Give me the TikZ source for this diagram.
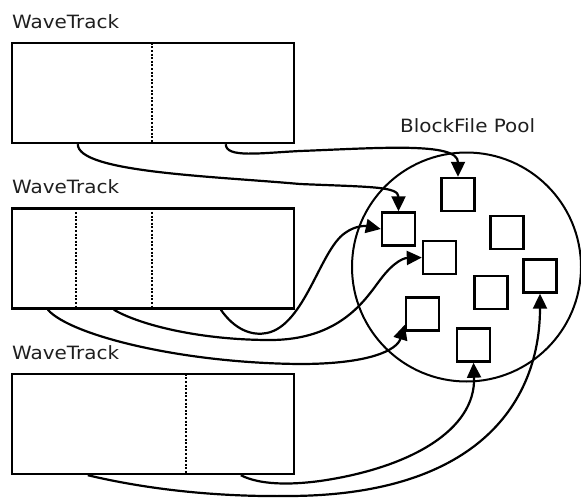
\documentclass[tikz,border=0pt]{standalone}
\usepackage{fontspec}
\setmainfont{DejaVu Sans}[FakeStretch=1.09]
\usetikzlibrary{calc,arrows.meta}
\tikzset{
  track/.style={draw,line width=2.4pt,minimum width=282pt,minimum height=100pt,inner sep=0pt},
  blk/.style={draw,line width=2.4pt,minimum size=33pt,inner sep=0pt},
  lbl/.style={anchor=base west,inner sep=0pt,text=black!88,font=\fontsize{18.3}{20}\selectfont},
  sep/.style={line width=2.2pt,dash pattern=on 2pt off 1.6pt},
  link/.style={line width=2.2pt,-{Triangle[length=15pt,width=14pt]}}
}
\begin{document}
\begin{tikzpicture}[x=1pt,y=-1pt]
\useasboundingbox (0,0) rectangle (581,498);
% labels
\node[lbl] (l1) at (12,28) {WaveTrack};
\node[lbl] (l2) at (12,193) {WaveTrack};
\node[lbl] (l3) at (12,359) {WaveTrack};
\node[lbl] (lp) at (400,132) {BlockFile Pool};
% tracks
\node[track] (t1) at (153,93) {};
\node[track] (t2) at (153,258.5) {};
\node[track] (t3) at (153,424) {};
% separators
\draw[sep] ($(t1.north west)+(141,1)$) -- ($(t1.south west)+(141,-1)$);
\draw[sep] ($(t2.north west)+(65,1)$) -- ($(t2.south west)+(65,-1)$);
\draw[sep] ($(t2.north west)+(141,1)$) -- ($(t2.south west)+(141,-1)$);
\draw[sep] ($(t3.north west)+(175,1)$) -- ($(t3.south west)+(175,-1)$);
% pool
\node[draw,circle,line width=2pt,minimum size=229pt,inner sep=0pt] (pool) at (466.5,267) {};
% blocks
\node[blk] (A) at (458,194.5) {};
\node[blk] (B) at (398.5,229) {};
\node[blk] (C) at (507,232.5) {};
\node[blk] (D) at (439.5,257.5) {};
\node[blk] (E) at (491,292.5) {};
\node[blk] (F) at (540,276) {};
\node[blk] (G) at (422.5,314) {};
\node[blk] (H) at (473.5,345) {};
% start points
\coordinate (s1) at ($(t1.south west)+(215,0)$);
\coordinate (s2) at ($(t1.south west)+(67,0)$);
\coordinate (s3) at ($(t2.south west)+(210,0)$);
\coordinate (s4) at ($(t2.south west)+(103,0)$);
\coordinate (s5) at ($(t2.south west)+(37,0)$);
\coordinate (s6) at ($(t3.south west)+(230,0)$);
\coordinate (s7) at ($(t3.south west)+(77,0)$);
% links
\draw[link] (s1) .. controls +(0,14) and +(-40,2) .. (300,151)
  .. controls +(80,-3) and +(0,-35) .. (A.north);
\draw[link] (s2) .. controls +(0,28) and +(-90,-8) .. (300,184)
  .. controls +(70,3) and +(0,-25) .. (B.north);
\draw[link] (s3) .. controls (235,330) and (252,336) .. (267,333)
  .. controls (305,325) and (320,250) .. (345,233)
  .. controls (356,225) and (366,226) .. (B.west);
\draw[link] (s4) .. controls (140,325) and (200,340) .. (270,340)
  .. controls (340,340) and (365,300) .. (380,280)
  .. controls (395,260) and (405,258) .. (D.west);
\draw[link] (s5) .. controls (70,335) and (180,363) .. (300,364)
  .. controls (370,364) and (397,350) .. ($(G.south west)+(0,-7)$);
\draw[link] (s6) .. controls (260,485) and (290,485) .. (320,481)
  .. controls (410,468) and (476,430) .. (H.south);
\draw[link] (s7) .. controls (150,490) and (220,497) .. (290,496)
  .. controls (480,495) and (540,400) .. (F.south);
\end{tikzpicture}
\end{document}
